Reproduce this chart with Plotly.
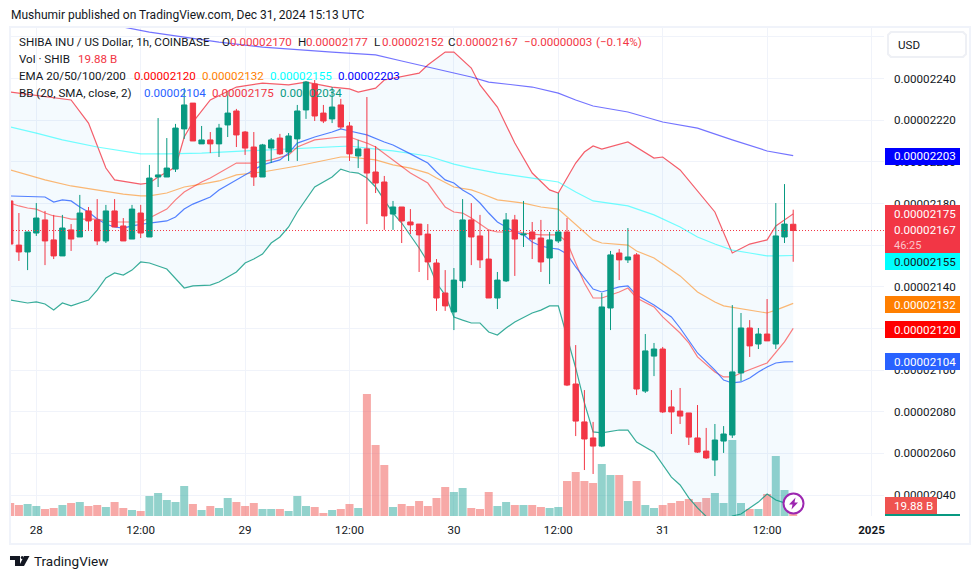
import plotly.graph_objects as go

# price values are in units of 0.00000001 USD; hours counted from Dec 28 00:00
hours = list(range(-3, 88))
opens = [2181.2,2160.0,2156.7,2165.8,2172.1,2162.5,2154.8,2167.3,2163.9,2176.4,2172.1,2162.0,2176.4,2169.2,2162.9,2175.4,
 2163.9,2192.7,2192.7,2196.5,2215.8,2228.2,2208.6,2210.5,2208.6,2217.7,2224.4,2214.3,2207.1,2192.7,2206.6,2211.4,2204.7,2211.0,
 2224.9,2237.4,2223.4,2220.6,2227.3,2217.2,2202.8,2206.2,2195.1,2190.3,2174.9,2178.3,2171.1,2170.1,2165.3,2151.4,2137.0,2127.9,
 2142.8,2172.1,2164.4,2153.3,2134.6,2142.8,2172.1,2164.9,2166.3,2163.4,2153.8,2162.0,2166.3,2093.3,2075.1,2067.4,2063.5,2129.8,
 2156.2,2152.9,2155.3,2089.9,2106.7,2110.1,2082.3,2080.3,2079.4,2067.4,2061.1,2056.8,2065.9,2068.8,2098.6,2120.2,2112.5,2117.3,
 2112.5,2163.9,2170.0]
highs = [2184.1,2175.4,2166.3,2180.2,2176.4,2174.5,2174.5,2170.1,2184.1,2178.3,2182.1,2179.3,2182.1,2173.0,2179.3,2179.3,
 2198.5,2221.0,2211.4,2218.2,2235.4,2228.2,2217.2,2214.3,2218.2,2233.5,2225.4,2214.8,2214.3,2208.6,2211.4,2213.4,2213.8,2227.3,
 2238.8,2239.3,2227.3,2235.9,2230.2,2219.1,2210.5,2231.1,2207.6,2193.2,2181.2,2178.3,2177.3,2170.1,2170.1,2153.3,2148.0,2149.0,
 2182.1,2180.2,2174.5,2167.3,2147.1,2175.4,2174.5,2181.2,2171.1,2172.1,2166.3,2185.0,2173.0,2112.0,2090.4,2075.1,2137.0,2157.2,
 2158.1,2168.2,2156.2,2117.3,2113.0,2111.1,2090.4,2091.4,2079.4,2083.2,2072.2,2074.1,2073.1,2131.2,2127.4,2124.0,2120.2,2134.1,
 2180.2,2189.3,2177.0]
lows = [2159.1,2152.4,2148.0,2164.4,2150.4,2153.3,2154.8,2157.2,2163.9,2167.3,2160.0,2161.0,2168.7,2162.0,2162.9,2163.4,
 2163.9,2187.9,2192.7,2195.1,2211.0,2210.0,2208.6,2204.2,2202.3,2211.9,2207.1,2203.3,2188.4,2192.7,2199.4,2203.3,2200.4,2200.4,
 2220.6,2219.6,2218.6,2218.6,2215.8,2200.4,2197.0,2170.1,2185.0,2167.3,2167.3,2161.0,2165.3,2147.1,2143.2,2128.4,2128.4,2119.2,
 2139.4,2150.4,2149.0,2134.6,2129.3,2142.3,2145.2,2159.1,2153.3,2147.1,2141.3,2161.0,2092.3,2068.3,2052.0,2050.1,2063.0,2119.2,
 2143.2,2151.4,2088.0,2089.0,2097.1,2079.4,2069.3,2074.1,2064.0,2060.2,2057.3,2049.1,2060.2,2067.4,2094.7,2106.3,2110.1,2114.0,
 2110.1,2161.0,2152.0]
closes = [2160.5,2156.7,2166.3,2173.0,2162.0,2154.8,2168.2,2162.9,2175.4,2171.6,2162.0,2176.4,2168.7,2162.0,2177.3,2165.8,
 2192.2,2193.7,2197.0,2216.2,2227.3,2210.0,2210.5,2208.6,2216.2,2223.4,2212.9,2206.6,2192.7,2208.1,2210.5,2203.8,2212.4,2224.4,
 2238.3,2222.0,2219.6,2226.3,2216.7,2203.8,2206.2,2194.6,2189.8,2174.0,2178.3,2171.6,2169.7,2164.9,2151.9,2134.6,2130.8,2143.2,
 2172.1,2163.9,2152.9,2134.6,2143.2,2172.1,2162.9,2165.3,2162.9,2151.9,2162.5,2166.3,2092.8,2075.5,2066.9,2063.5,2130.3,2155.3,
 2152.9,2154.3,2090.9,2109.2,2110.1,2079.9,2079.9,2077.9,2067.8,2060.6,2057.8,2066.4,2069.3,2099.1,2120.2,2111.6,2117.3,2114.0,
 2164.4,2170.1,2167.0]
volumes_b = [26,22,24,20,14,16,22,26,28,20,22,18,28,16,12,10,40,46,32,28,60,24,12,20,16,36,28,20,26,14,14,14,10,40,
 20,18,6,12,14,24,16,244,142,102,18,24,20,30,20,36,58,48,56,16,14,48,20,28,22,22,22,18,16,18,70,88,70,66,104,82,
 82,30,70,22,16,22,26,30,34,28,36,46,26,152,26,14,14,44,120,52,19.88]

upper_h = [-3,4,6,8,9,12,13,14,16,17,18,20,23,26,29,31,34,36,37,39,40,44,45,47,48,50,51,53,55,57,59,60,62,63,64,65,68,70,71,72,74,78,80,82,84,85,87]
upper_v = [2233.5,2229.7,2218.6,2197.0,2191.3,2189.3,2189.8,2192.7,2197.5,2211.9,2219.1,2229.7,2235.9,2237.8,2236.9,2238.3,2235.9,2235.0,2233.5,2235.4,2239.3,2242.6,2246.5,2252.7,2252.7,2245.0,2236.9,2226.3,2209.0,2194.6,2186.5,2185.0,2199.4,2204.7,2207.6,2206.1,2209.5,2204.2,2201.8,2202.3,2196.1,2175.9,2156.2,2160.5,2162.5,2169.2,2175.0]
lower_h = [-3,-1,0,1,2,3,4,6,7,8,9,10,11,12,13,15,17,18,20,21,23,24,25,26,27,28,29,30,32,34,35,36,37,38,39,40,41,42,43,44,45,46,47,48,49,50,51,52,53,54,55,57,58,59,60,61,62,63,64,65,67,68,69,71,72,73,74,75,76,77,78,79,80,81,82,83,84,85,86,87]
lower_v = [2133.6,2132.2,2132.7,2131.7,2128.8,2132.2,2130.8,2133.6,2138.4,2144.2,2146.6,2145.6,2148.0,2151.9,2151.4,2148.5,2139.4,2140.4,2140.8,2142.3,2147.1,2151.4,2153.3,2155.7,2161.0,2163.9,2168.7,2175.9,2187.9,2192.7,2196.5,2195.1,2194.6,2192.2,2187.9,2181.7,2175.4,2170.6,2164.9,2158.6,2151.9,2141.8,2136.0,2125.5,2124.0,2122.6,2122.6,2118.3,2116.8,2120.2,2123.1,2127.4,2128.8,2130.8,2130.8,2116.4,2101.0,2084.2,2070.3,2069.8,2071.2,2071.2,2065.4,2060.6,2054.4,2048.6,2044.8,2038.6,2033.8,2029.4,2025.6,2023.2,2029.9,2030.9,2033.8,2036.6,2040.5,2037.6,2036.2,2034.0]
basis_h = [-3,0,1,2,3,4,5,6,7,8,9,10,11,13,15,16,17,18,20,21,23,24,26,28,29,30,32,34,35,36,38,40,41,43,45,46,47,48,49,50,51,52,53,54,55,56,57,58,59,60,61,62,63,64,65,67,68,69,71,73,74,75,76,78,79,80,81,82,83,84,85,86,87]
basis_v = [2183.6,2183.1,2183.1,2180.7,2181.7,2181.2,2178.3,2175.9,2172.5,2170.1,2168.7,2168.2,2169.2,2170.6,2171.6,2173.5,2177.3,2179.7,2183.1,2186.5,2191.3,2193.7,2198.5,2200.9,2204.2,2209.0,2211.9,2214.3,2215.8,2214.8,2212.9,2209.5,2208.1,2203.8,2199.4,2195.1,2191.3,2189.8,2186.5,2184.1,2180.2,2175.4,2171.1,2168.7,2166.3,2164.9,2161.5,2159.6,2158.6,2158.1,2155.7,2149.5,2144.2,2138.9,2137.5,2139.9,2140.4,2136.0,2131.2,2125.5,2120.2,2114.4,2108.2,2100.0,2095.2,2093.8,2094.3,2096.2,2099.1,2101.5,2103.4,2103.9,2104.0]
ema20_h = [-3,-2,-1,0,1,2,3,4,5,7,8,9,11,12,13,15,16,17,18,19,20,23,25,27,29,30,32,34,35,36,38,39,41,43,45,46,47,48,49,50,52,53,54,55,56,57,58,60,61,62,63,64,65,67,68,69,71,72,74,75,76,78,79,80,81,84,85,86,87]
ema20_v = [2180.2,2178.8,2177.8,2177.3,2175.4,2174.0,2173.5,2172.5,2172.5,2172.5,2171.6,2171.1,2171.1,2171.1,2173.0,2177.3,2181.7,2185.5,2187.9,2190.3,2192.2,2199.4,2199.4,2200.9,2203.3,2207.1,2210.5,2211.4,2211.9,2211.9,2209.0,2207.1,2200.9,2194.6,2189.8,2184.1,2178.3,2175.9,2175.4,2173.0,2167.3,2166.3,2166.3,2166.8,2165.8,2165.3,2164.9,2164.9,2161.5,2151.4,2141.8,2134.6,2134.6,2137.5,2139.4,2134.6,2130.3,2125.5,2117.8,2113.0,2106.3,2099.1,2096.7,2096.7,2098.6,2103.4,2108.2,2113.5,2120.0]
ema50_h = [-3,0,1,4,7,10,12,13,15,16,17,19,21,23,26,30,34,35,36,39,41,43,45,46,48,50,51,53,56,58,60,61,62,63,64,65,68,69,71,72,74,76,78,79,82,84,85,87]
ema50_v = [2196.1,2192.7,2191.3,2188.4,2186.5,2184.5,2183.6,2183.6,2185.0,2186.5,2187.9,2189.3,2190.8,2193.7,2195.1,2198.0,2201.3,2202.3,2202.3,2200.9,2198.5,2197.0,2194.6,2192.2,2187.9,2186.5,2185.0,2181.7,2180.2,2178.3,2177.3,2173.5,2170.1,2166.3,2162.5,2161.0,2160.0,2157.2,2153.8,2150.9,2145.2,2137.5,2132.7,2130.8,2128.8,2127.4,2128.8,2132.0]
ema100_h = [-3,0,3,7,12,15,19,26,30,34,36,39,41,45,48,50,53,57,60,62,64,68,69,71,74,76,78,80,82,84,85,87]
ema100_v = [2216.7,2213.8,2210.5,2207.1,2203.8,2203.8,2204.2,2205.7,2206.6,2207.1,2207.6,2206.1,2205.2,2202.8,2198.9,2197.0,2194.6,2192.2,2190.3,2185.5,2181.2,2178.8,2177.3,2174.5,2168.7,2163.9,2160.5,2157.6,2156.2,2154.8,2154.8,2155.0]
ema200_h = [-3,4,10,13,21,26,34,39,42,45,48,50,52,57,60,62,64,68,72,76,80,84,87]
ema200_v = [2270.5,2267.6,2264.7,2262.3,2257.5,2255.1,2252.7,2251.3,2248.4,2245.5,2242.6,2240.7,2238.3,2235.9,2233.0,2229.7,2226.8,2223.9,2219.1,2216.2,2210.5,2205.2,2203.0]

price_ticks = [2260,2240,2220,2200,2180,2160,2140,2120,2100,2080,2060,2040]
price_labels = ["","0.00002240","0.00002220","0.00002200","0.00002180","0.00002160","0.00002140","0.00002120","0.00002100","0.00002080","0.00002060","0.00002040"]
time_ticks = [0,12,24,36,48,60,72,84,96]
time_labels = ["28","12:00","29","12:00","30","12:00","31","12:00","<b>2025</b>"]
last_close = 2167

RED, GREEN = "#F23645", "#089981"
FONT = "Roboto"
FS = 11.6
W, H = 980, 579
L, R, T, B = 11, 884, 28, 516
def X(px): return (px - L) / (R - L)
def Y(py): return (B - py) / (B - T)
def pa(pts, close=True):
    s = "M" + " L".join(f"{X(a):.5f},{Y(b):.5f}" for a, b in pts)
    return s + (" Z" if close else "")

vol_colors = ["rgba(38,166,154,0.5)" if c >= o else "rgba(239,83,80,0.5)" for o, c in zip(opens, closes)]

fig = go.Figure()
fig.add_trace(go.Bar(x=hours, y=volumes_b, marker_color=vol_colors, marker_line_width=0, width=0.92, yaxis="y", hoverinfo="skip"))
def line(hx, v, color, **kw):
    fig.add_trace(go.Scatter(x=hx, y=v, mode="lines", line=dict(color=color, width=1.2), yaxis="y2", hoverinfo="skip", **kw))
line(lower_h, lower_v, "rgba(8,153,129,0.8)")
line(upper_h, upper_v, "rgba(242,54,69,0.8)", fill="tonexty", fillcolor="rgba(33,150,243,0.05)")
line(ema200_h, ema200_v, "rgba(0,0,255,0.55)")
line(ema100_h, ema100_v, "rgba(0,255,255,0.55)")
line(ema50_h, ema50_v, "rgba(255,127,0,0.55)")
line(ema20_h, ema20_v, "rgba(255,0,0,0.5)")
line(basis_h, basis_v, "rgba(41,98,255,0.8)")
fig.add_trace(go.Candlestick(x=hours, open=opens, high=highs, low=lows, close=closes, yaxis="y3",
    increasing=dict(line=dict(color=GREEN, width=1), fillcolor=GREEN),
    decreasing=dict(line=dict(color=RED, width=1), fillcolor=RED),
    whiskerwidth=0, hoverinfo="skip"))

price_range = [2029.92, 2264.25]
xrange_h = [(L - 36.3) / 8.7, (R - 36.3) / 8.7]
shapes = [
    dict(type="line", xref="paper", x0=X(13), x1=1, yref="y3", y0=last_close, y1=last_close,
         line=dict(color=RED, width=1, dash="1px,2px"), layer="above"),
    dict(type="rect", xref="paper", yref="paper", x0=X(10), x1=X(970), y0=Y(27), y1=Y(544),
         line=dict(color="#F0F3FA", width=2), layer="above"),
    dict(type="path", xref="paper", yref="paper", fillcolor="#FFFFFF", line=dict(color="#EEF0F5", width=2), layer="above",
         path=pa([(891,32),(963,32),(966,35),(966,54),(963,57),(891,57),(888,54),(888,35)])),
]
annots = []
def note(x, y, text, color="#131722", size=FS, anchor="left"):
    annots.append(dict(xref="paper", yref="paper", x=X(x), y=Y(y), text=text, showarrow=False, xanchor=anchor, yanchor="middle",
                       font=dict(family=FONT, size=size, color=color), borderpad=0))
def tag(y0, y1, color, text, tcolor="#FFFFFF", x1=960):
    shapes.append(dict(type="rect", xref="paper", yref="paper", x0=X(885), x1=X(x1), y0=Y(y0), y1=Y(y1),
                       fillcolor=color, line=dict(width=0), layer="above"))
    if text:
        note(893, (y0 + y1) / 2, text, tcolor)
note(897, 44.5, "USD")
tag(148, 165, "#0000FF", "0.00002203")
tag(205, 253, RED, "")
note(893, 213.5, "0.00002175", "#FFFFFF")
note(893, 230.5, "0.00002167", "#FFFFFF")
note(893, 245, "46:25", "#FBC5CA", 11)
tag(253, 270, "#00FFFF", "0.00002155", "#131722")
tag(296, 313, "#FF7F00", "0.00002132")
tag(321, 338, "#FF0000", "0.00002120")
tag(353, 370, "#2962FF", "0.00002104")
tag(497, 514, "#EF5350", "19.88 B", x1=937)
tag(514, 516, GREEN, "")

note(10, 15, "Mushumir published on TradingView.com, Dec 31, 2024 15:13 UTC", size=12)
note(18, 42, "SHIBA INU / US Dollar, 1h, COINBASE")
for xx, letter, val in [(221, "O", "0.00002170"), (297, "H", "0.00002177"), (373, "L", "0.00002152"), (447, "C", "0.00002167")]:
    note(xx, 42, letter)
    note(xx + 8, 42, val, RED)
note(523, 42, "−0.00000003", RED)
note(595, 42, "(−0.14%)", RED)
note(18, 59, "Vol · SHIB")
note(77, 59, "19.88 B", RED)
note(18, 76, "EMA 20/50/100/200")
for xx, val, c in [(133, "0.00002120", "#FF0000"), (201, "0.00002132", "#FF7F00"), (269, "0.00002155", "#00FFFF"), (337, "0.00002203", "#0000FF")]:
    note(xx, 76, val, c)
note(18, 93, "BB (20, SMA, close, 2)")
for xx, val, c in [(143, "0.00002104", "#2962FF"), (211, "0.00002175", RED), (279, "0.00002034", GREEN)]:
    note(xx, 93, val, c)
note(33, 561, "TradingView", "#131722", 13.5)

# TradingView logo
shapes.append(dict(type="path", xref="paper", yref="paper", fillcolor="#131722", line=dict(width=0), layer="above",
    path=pa([(10,556),(20,556),(20,566),(15,566),(15,560),(10,560)])))
shapes.append(dict(type="path", xref="paper", yref="paper", fillcolor="#131722", line=dict(width=0), layer="above",
    path=pa([(24,556),(29.5,556),(24,566),(19,566)])))
shapes.append(dict(type="circle", xref="paper", yref="paper", x0=X(20.8), x1=X(23.6), y0=Y(556), y1=Y(559),
    fillcolor="#131722", line=dict(width=0), layer="above"))
# lightning badge
shapes.append(dict(type="circle", xref="paper", yref="paper", x0=X(783.5), x1=X(803.5), y0=Y(493.5), y1=Y(513.5),
    fillcolor="#FFFFFF", line=dict(color="#9C27B0", width=2), layer="above"))
shapes.append(dict(type="path", xref="paper", yref="paper", fillcolor="#9C27B0", line=dict(width=0), layer="above",
    path=pa([(795.5,497.5),(789,504.5),(792.5,504.5),(791.5,509.5),(798,502.5),(794.5,502.5)])))

fig.update_layout(
    width=W, height=H, autosize=False, margin=dict(l=L, r=W - R, t=T, b=H - B, pad=0),
    paper_bgcolor="#FFFFFF", plot_bgcolor="#FFFFFF", showlegend=False, boxgap=0.12,
    font=dict(family=FONT, size=FS, color="#131722"),
    xaxis=dict(range=xrange_h, tickvals=time_ticks, ticktext=time_labels, showgrid=True, gridcolor="#F0F3FA", gridwidth=1,
               zeroline=False, showline=False, ticks="", rangeslider=dict(visible=False), ticklabelstandoff=5,
               tickfont=dict(family=FONT, size=FS, color="#131722")),
    yaxis=dict(range=[0, 976], visible=False, showgrid=False, fixedrange=True),
    yaxis2=dict(range=price_range, overlaying="y", visible=False, showgrid=False),
    yaxis3=dict(range=price_range, overlaying="y", side="right", tickvals=price_ticks, ticktext=price_labels,
                showgrid=True, gridcolor="#F0F3FA", gridwidth=1, zeroline=False, showline=False, ticks="",
                ticklabelstandoff=9, tickfont=dict(family=FONT, size=FS, color="#131722")),
    shapes=shapes, annotations=annots,
)
fig.write_html("out.html", config=dict(displayModeBar=False),
               post_script="document.body.style.margin='0';document.body.style.overflow='hidden';")
